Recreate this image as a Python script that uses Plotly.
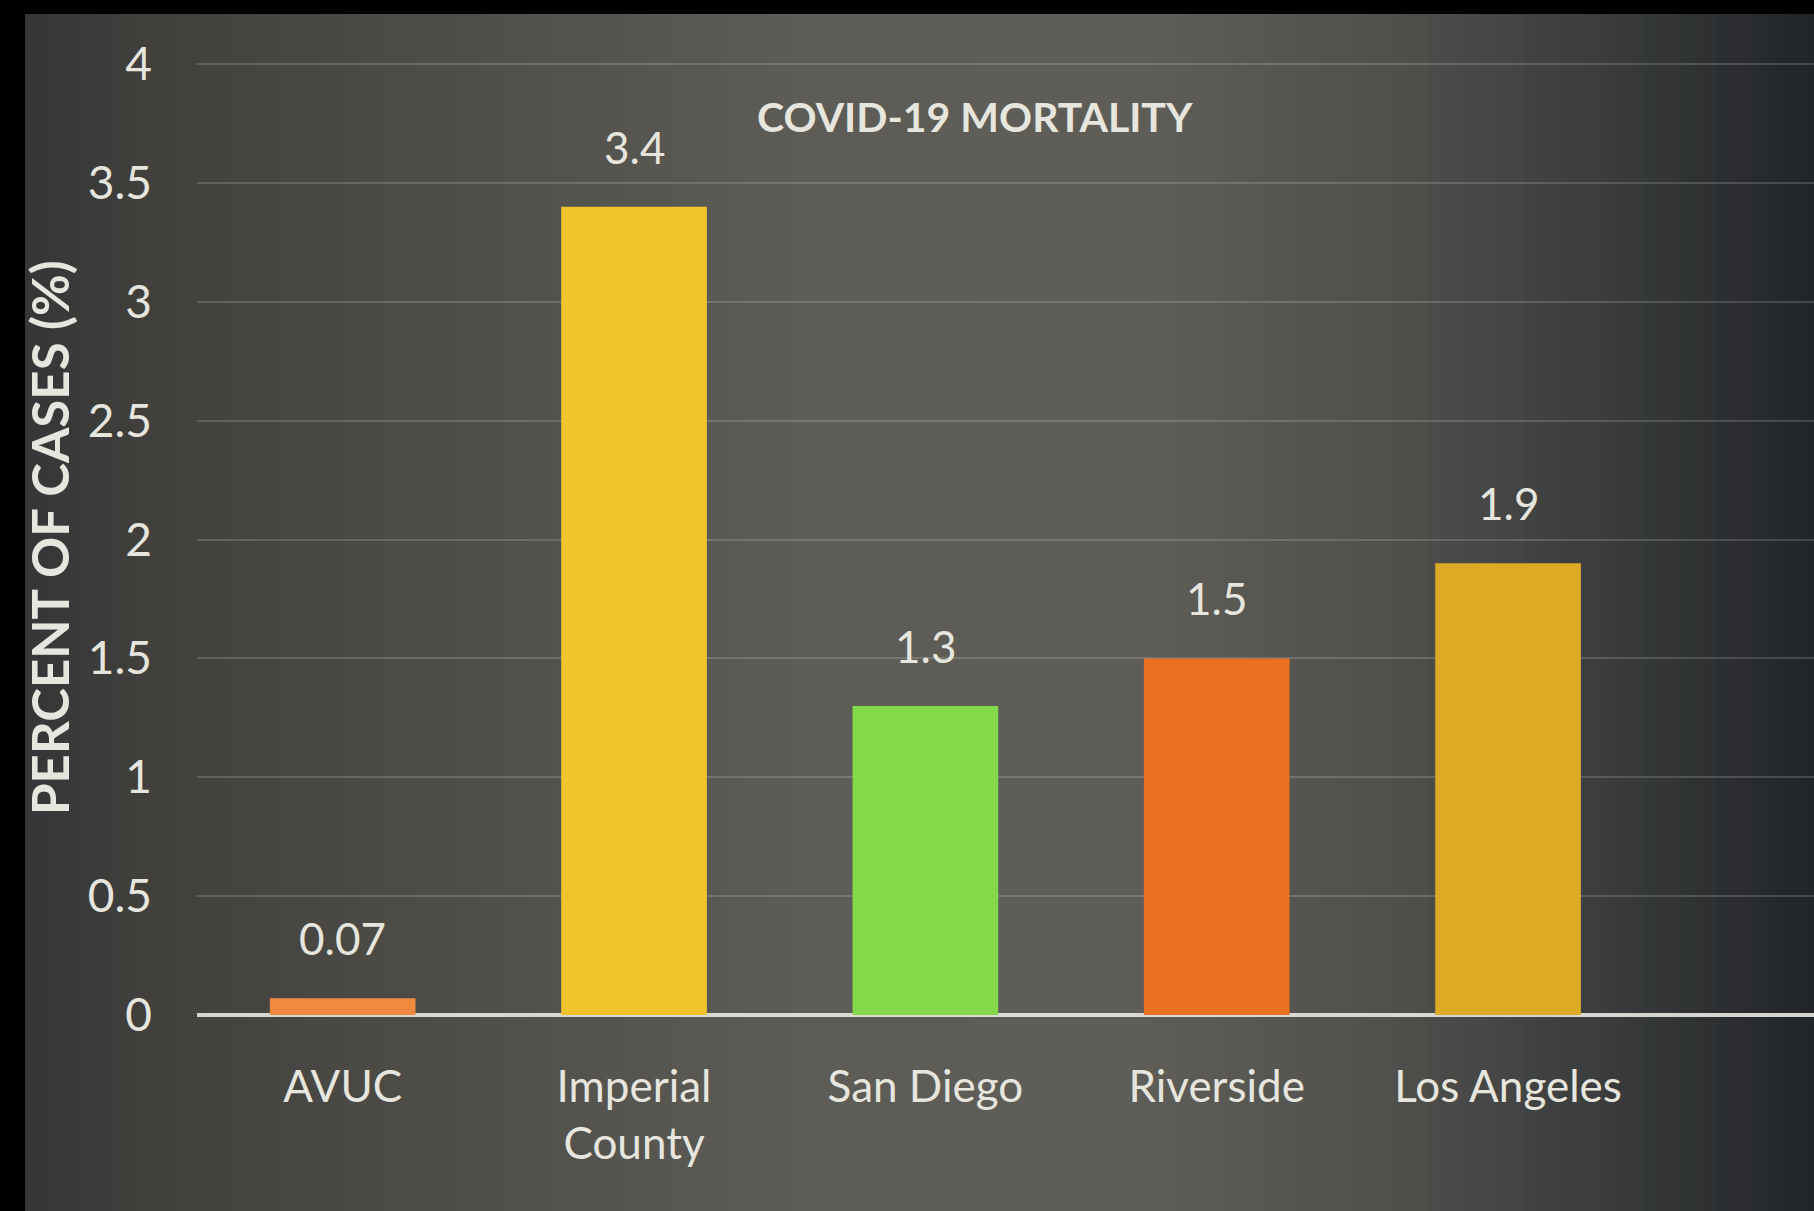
import plotly.graph_objects as go

# Case fatality rate by area (percent of cases)
counties = ["AVUC", "Imperial<br>County", "San Diego", "Riverside", "Los Angeles"]
mortality = [0.07, 3.4, 1.3, 1.5, 1.9]
bar_colors = ["#ef8a3f", "#f1c42c", "#84d94a", "#e9701e", "#dcaa25"]

y_tick_vals = [0, 0.5, 1, 1.5, 2, 2.5, 3, 3.5, 4]
y_tick_text = ["0", "0.5", "1", "1.5", "2", "2.5", "3", "3.5", "4"]

W, H = 1814, 1211
M_L, M_R, M_T, M_B = 197, 0, 59, 196
PW, PH = W - M_L - M_R, H - M_T - M_B
Y_TOP = 4 * PH / (H - M_B - 64)   # puts the 4 gridline a few px below the plot top

TEXT = "#e6e6df"
FONT = "Lato"


def px_x(px):
    return (px - M_L) / PW


def px_y(py):
    return (H - M_B - py) / PH


def hex_rgb(h):
    h = h.lstrip("#")
    return tuple(int(h[i:i + 2], 16) for i in (0, 2, 4))


# horizontal background shading (dark edges, lighter centre)
bg_stops = [
    (25, "#343637"),
    (150, "#41403c"),
    (400, "#4c4b46"),
    (800, "#5d5c56"),
    (1150, "#5e5d57"),
    (1400, "#4f4f4c"),
    (1600, "#3a3c3d"),
    (1814, "#222528"),
]


def bg_color(px):
    for (x0, c0), (x1, c1) in zip(bg_stops, bg_stops[1:]):
        if x0 <= px <= x1:
            t = (px - x0) / (x1 - x0)
            a, b = hex_rgb(c0), hex_rgb(c1)
            r, g, bl = (round(a[i] + (b[i] - a[i]) * t) for i in range(3))
            return f"rgb({r},{g},{bl})"
    return bg_stops[-1][1]


shapes = []
step = 12
x = 25
while x < W:
    x_end = min(x + step, W)
    shapes.append(dict(
        type="rect", xref="paper", yref="paper", layer="below",
        x0=px_x(x), x1=px_x(x_end + 1), y0=px_y(H), y1=px_y(14),
        fillcolor=bg_color((x + x_end) / 2), line=dict(width=0),
    ))
    x = x_end

fig = go.Figure()
fig.add_trace(go.Bar(
    x=counties,
    y=mortality,
    marker=dict(color=bar_colors, line=dict(width=0)),
    hoverinfo="x+y",
))

annotations = []
for name, val in zip(counties, mortality):
    annotations.append(dict(
        x=name, y=val, xref="x", yref="y",
        text=f"{val:g}", showarrow=False,
        yanchor="bottom", yshift=32,
        font=dict(family=FONT, size=44, color=TEXT),
    ))

# rotated y-axis caption
annotations.append(dict(
    x=px_x(49), y=px_y(538), xref="paper", yref="paper",
    text="PERCENT OF CASES (%)", textangle=-90, showarrow=False,
    xanchor="center", yanchor="middle",
    font=dict(family=FONT, size=51, color=TEXT, weight="bold"),
))

# chart heading
annotations.append(dict(
    x=px_x(975), y=px_y(116), xref="paper", yref="paper",
    text="COVID-19 MORTALITY", showarrow=False,
    xanchor="center", yanchor="middle",
    font=dict(family=FONT, size=41, color=TEXT, weight="bold"),
))

fig.update_layout(
    width=W, height=H,
    margin=dict(l=M_L, r=M_R, t=M_T, b=M_B, pad=0),
    paper_bgcolor="#000000",
    plot_bgcolor="rgba(0,0,0,0)",
    bargap=0.5,
    showlegend=False,
    shapes=shapes,
    annotations=annotations,
    font=dict(family=FONT, color=TEXT),
)

fig.update_xaxes(
    type="category",
    range=[-0.5, 5.05],
    showgrid=False,
    showline=False,
    zeroline=False,
    ticks="",
    ticklabelstandoff=42,
    tickfont=dict(family=FONT, size=44, color=TEXT),
)

fig.update_yaxes(
    range=[0, Y_TOP],
    tickvals=y_tick_vals,
    ticktext=y_tick_text,
    showgrid=True,
    gridcolor="rgba(255,255,255,0.16)",
    gridwidth=2,
    zeroline=True,
    zerolinecolor="rgba(232,232,226,0.9)",
    zerolinewidth=4,
    showline=False,
    ticks="",
    ticklabelstandoff=44,
    tickfont=dict(family=FONT, size=46, color=TEXT),
)

fig.write_html("out.html")
